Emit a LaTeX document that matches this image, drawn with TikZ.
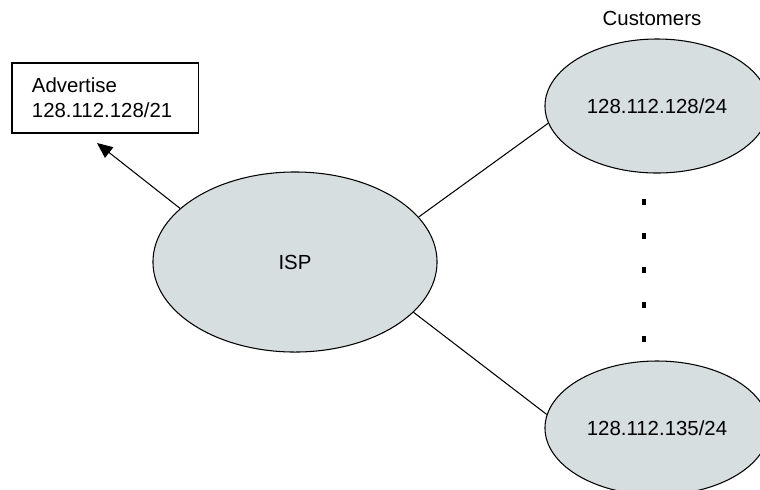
\documentclass[tikz,border=0pt]{standalone}
\usepackage{fontspec}
\setmainfont{Liberation Sans}
\usepackage{xcolor}
\usepackage{tikz}
\usetikzlibrary{shapes.geometric, arrows.meta, positioning, calc}

\definecolor{netfill}{RGB}{214,222,223}

\begin{document}
\begin{tikzpicture}[%
    x=0.025cm, y=-0.025cm,  % pixel grid, origin top left
    >={Triangle[length=11pt,width=9.5pt]},
    line width=0.75pt,
    every node/.style={font=\fontsize{14.5}{17.7}\selectfont},
    net/.style={ellipse, draw=black, fill=netfill, inner sep=0pt},
    bignet/.style={net, minimum width=7.1cm, minimum height=4.5cm},
    cust/.style={net, minimum width=5.6cm, minimum height=3.35cm},
    advbox/.style={rectangle, draw=black, align=left, text width=3.65cm,
                   inner xsep=0.5cm, minimum height=1.75cm},
    dotmark/.style={rectangle, fill=black, inner sep=0pt,
                    minimum width=3.2pt, minimum height=3.6pt}
]

    % ==========================================
    % 1. Frame
    % ==========================================
    \clip (0,0) rectangle (760,489);

    % ==========================================
    % 2. Nodes
    % ==========================================
    \node[bignet] (isp) at (295,262) {ISP};
    \node[cust] (c128) at (657,106) {128.112.128/24};
    \node[cust] (c135) at (657,428) {128.112.135/24};
    \node (cust) at (652,18) {Customers};
    \node[advbox] (adv) at (105,98) {Advertise\\128.112.128/21};
    \coordinate (advtip) at (97,143);

    % the dots between the customers
    \foreach \i/\y in {1/202, 2/236, 3/270, 4/305, 5/339}
        \node[dotmark] (dot\i) at (644,\y) {};

    % ==========================================
    % 3. Links
    % ==========================================
    \path
        % ISP to the customers
        (isp.20) edge (c128.189)
        (isp.337) edge (c135.173)
        % ISP advertises the aggregate
        (isp.155) edge[->] (advtip);

\end{tikzpicture}
\end{document}
